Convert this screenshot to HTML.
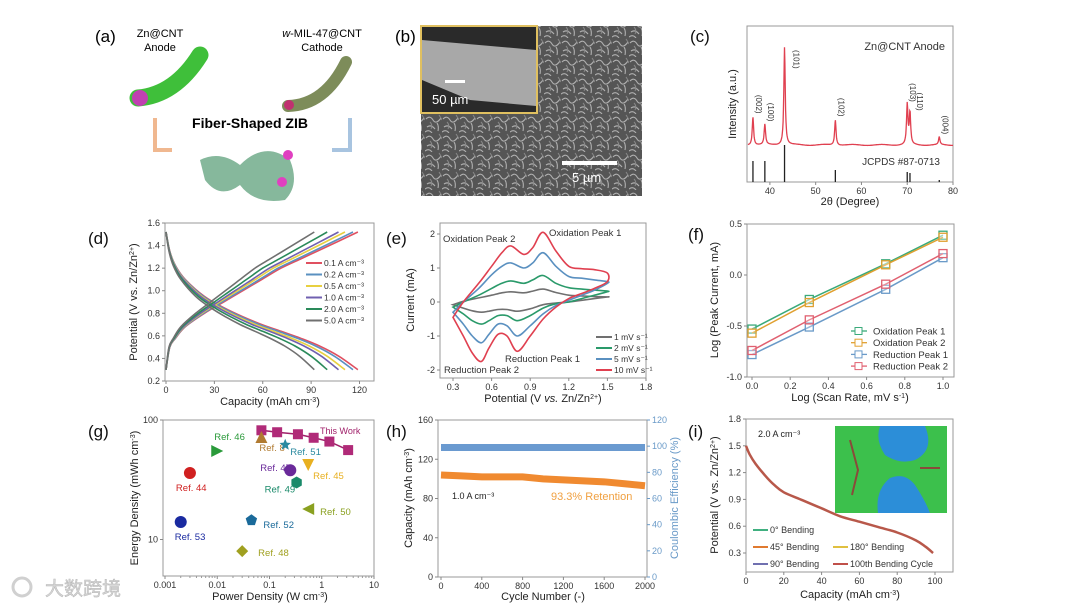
<!DOCTYPE html>
<html><head><meta charset="utf-8"><style>
html,body{margin:0;padding:0;background:#fff;}
svg{display:block;font-family:"Liberation Sans","Noto Sans CJK SC",sans-serif;}
</style></head><body>
<svg id="fig" width="1080" height="608" viewBox="0 0 1080 608" xmlns="http://www.w3.org/2000/svg">
<defs>
<pattern id="sem" width="17" height="19" patternUnits="userSpaceOnUse">
<rect width="17" height="19" fill="#555"/>
<path d="M1 5 Q5 1 8 6 T16 4 M2 13 Q6 10 10 15 M0 18 Q4 15 7 19 M12 9 Q14 12 13 17" stroke="#b0b0b0" stroke-width="1.1" fill="none"/>
<path d="M5 8 Q8 11 6 15 M14 1 Q16 4 17 6" stroke="#888" stroke-width="1" fill="none"/>
</pattern>
</defs>

<!-- Panel a -->
<g>
<text x="95" y="42" font-size="17">(a)</text>
<text x="160" y="37" font-size="11" text-anchor="middle">Zn@CNT</text>
<text x="160" y="51" font-size="11" text-anchor="middle">Anode</text>
<text x="322" y="37" font-size="11" text-anchor="middle"><tspan font-style="italic">w</tspan>-MIL-47@CNT</text>
<text x="322" y="51" font-size="11" text-anchor="middle">Cathode</text>
<path d="M138 98 Q175 95 200 55" stroke="#3fbf3a" stroke-width="17" fill="none" stroke-linecap="round"/>
<circle cx="140" cy="98" r="8" fill="#c040b0"/>
<path d="M288 106 Q325 105 346 62" stroke="#7d8c5a" stroke-width="12" fill="none" stroke-linecap="round"/>
<circle cx="289" cy="105" r="5" fill="#c03070"/>
<text x="250" y="128" font-size="14" font-weight="bold" text-anchor="middle">Fiber-Shaped ZIB</text>
<path d="M155 118 V150 H172" stroke="#f0b890" stroke-width="4" fill="none"/>
<path d="M350 118 V150 H332" stroke="#a8c4e0" stroke-width="4" fill="none"/>
<path d="M200 160 Q220 150 240 165 Q265 140 290 160 Q300 185 285 200 Q255 205 240 185 Q220 200 205 180 Z" fill="#86b89c"/>
<circle cx="288" cy="155" r="5" fill="#e040c0"/>
<circle cx="282" cy="182" r="5" fill="#e040c0"/>
</g>

<!-- Panel b -->
<g>
<text x="395" y="42" font-size="17">(b)</text>
<rect x="421" y="26" width="221" height="170" fill="url(#sem)"/>
<rect x="421" y="26" width="116" height="87" fill="#2a2a2a" stroke="#e0c060" stroke-width="2"/>
<path d="M422 40 L536 50 L536 106 L470 100 L422 80 Z" fill="#a8a8a8"/>
<rect x="445" y="80" width="20" height="3" fill="#fff"/>
<text x="432" y="104" font-size="13" fill="#fff">50 µm</text>
<rect x="562" y="161" width="55" height="4" fill="#fff"/>
<text x="572" y="182" font-size="13" fill="#fff">5 µm</text>
</g>

<!-- watermark -->
<g opacity="0.85">
<circle cx="22" cy="587" r="9" fill="none" stroke="#c8c8c8" stroke-width="3"/>
<text x="45" y="595" font-size="19" fill="#d0d0d0" stroke="#aaa" stroke-width="0.5">大数跨境</text>
</g>
<g id="charts"></g>
</svg>
<script>
// ---------- data ----------
// (c) XRD
const xrdPeaks=[36.3,38.9,43.2,54.3,70.0,70.6,77.0];
const xrdHeights=[29,21,100,26,41,32,8];
const xrdLabels=["(002)","(100)","(101)","(102)","(103)","(110)","(004)"];
const refSticks=[36.3,38.9,43.2,54.3,70.0,70.6,77.0];
const refStickHeights=[21,21,37,12,10,9,2];
// (d) GCD
const gcdRates=["0.1 A cm⁻³","0.2 A cm⁻³","0.5 A cm⁻³","1.0 A cm⁻³","2.0 A cm⁻³","5.0 A cm⁻³"];
const gcdCapacity=[119,116,111,107,100,92];
const gcdFrac=[0,0.02,0.05,0.1,0.2,0.3,0.4,0.5,0.6,0.7,0.8,0.9,1.0];
const dischargeV=[1.52,1.35,1.22,1.1,0.95,0.85,0.77,0.7,0.64,0.58,0.51,0.42,0.3];
const chargeV=[0.3,0.5,0.58,0.68,0.8,0.9,1.0,1.1,1.2,1.28,1.36,1.44,1.52];
// (e) CV
const cvRates=["1 mV s⁻¹","2 mV s⁻¹","5 mV s⁻¹","10 mV s⁻¹"];
const cvUpperE=[0.3,0.38,0.5,0.6,0.68,0.75,0.85,0.92,1.0,1.1,1.2,1.3,1.4,1.5];
const cvUpper1=[-0.08,0.02,0.12,0.2,0.27,0.3,0.27,0.32,0.38,0.28,0.2,0.18,0.16,0.15];
const cvUpper2=[-0.15,0,0.2,0.4,0.55,0.62,0.55,0.65,0.78,0.55,0.42,0.38,0.35,0.32];
const cvUpper5=[-0.3,0,0.4,0.8,1.05,1.15,1.0,1.15,1.45,1.05,0.75,0.7,0.65,0.6];
const cvUpper10=[-0.45,0,0.55,1.05,1.45,1.65,1.4,1.6,2.05,1.5,1.05,0.98,0.95,0.85];
const cvLowerE=[1.5,1.4,1.3,1.2,1.1,1.0,0.9,0.8,0.72,0.65,0.58,0.52,0.45,0.38,0.3];
const cvLower1=[0.15,0.1,0.05,0,-0.03,-0.08,-0.2,-0.27,-0.22,-0.22,-0.27,-0.3,-0.26,-0.18,-0.08];
const cvLower2=[0.3,0.2,0.1,0,-0.05,-0.18,-0.4,-0.55,-0.4,-0.4,-0.55,-0.65,-0.55,-0.35,-0.15];
const cvLower5=[0.55,0.35,0.2,0.05,-0.1,-0.35,-0.7,-1.0,-0.7,-0.65,-0.95,-1.2,-1.0,-0.65,-0.3];
const cvLower10=[0.6,0.4,0.25,0.1,-0.15,-0.5,-1.0,-1.45,-1.0,-0.95,-1.35,-1.75,-1.5,-1.0,-0.45];
// (f)
const logRate=[0,0.3,0.7,1.0];
const ox1=[-0.53,-0.24,0.11,0.39];
const ox2=[-0.57,-0.27,0.1,0.37];
const red1=[-0.78,-0.51,-0.14,0.17];
const red2=[-0.74,-0.44,-0.09,0.21];
const fNames=["Oxidation Peak 1","Oxidation Peak 2","Reduction Peak 1","Reduction Peak 2"];
// (g) Ragone
const thisPower=[0.07,0.14,0.35,0.7,1.4,3.2];
const thisEnergy=[82,79,76,71,66,56];
const refNames=["Ref. 46","Ref. 44","Ref. 8","Ref. 51","Ref. 47","Ref. 45","Ref. 49","Ref. 50","Ref. 52","Ref. 53","Ref. 48"];
const refPower=[0.01,0.003,0.07,0.2,0.25,0.55,0.33,0.55,0.045,0.002,0.03];
const refEnergy=[55,36,72,62,38,42,30,18,14.5,14,8];
// (h) cycling
const cycles=[0,200,400,600,800,1000,1200,1400,1600,1800,2000];
const capCycle=[104,103,102,102,102,100,99,98,97,95,93];
const ceCycle=[99,99,99,99,99,99,99,99,99,99,99];
// (i) bending
const bendCap=[0,2,5,10,15,20,30,40,50,60,70,80,90,95,99];
const bendV=[1.5,1.4,1.3,1.17,1.06,0.98,0.89,0.8,0.71,0.65,0.59,0.53,0.44,0.37,0.3];

// ---------- helpers ----------
const NS="http://www.w3.org/2000/svg";
const root=document.getElementById('charts');
function el(tag,attrs,parent){const e=document.createElementNS(NS,tag);for(const k in attrs)e.setAttribute(k,attrs[k]);(parent||root).appendChild(e);return e;}
function lin(d0,d1,r0,r1){return v=>r0+(v-d0)/(d1-d0)*(r1-r0);}
function logS(d0,d1,r0,r1){return v=>r0+(Math.log10(v)-d0)/(d1-d0)*(r1-r0);}
function smooth(pts){let d="M"+pts[0][0].toFixed(1)+" "+pts[0][1].toFixed(1);
 for(let i=0;i<pts.length-1;i++){const p0=pts[i-1]||pts[i],p1=pts[i],p2=pts[i+1],p3=pts[i+2]||p2;
  const c1=[p1[0]+(p2[0]-p0[0])/6,p1[1]+(p2[1]-p0[1])/6],c2=[p2[0]-(p3[0]-p1[0])/6,p2[1]-(p3[1]-p1[1])/6];
  d+=" C"+c1.map(v=>v.toFixed(1)).join(" ")+" "+c2.map(v=>v.toFixed(1)).join(" ")+" "+p2[0].toFixed(1)+" "+p2[1].toFixed(1);}
 return d;}
function txt(x,y,s,size,parent,extra){const t=el('text',Object.assign({x:x,y:y,'font-size':size,fill:'#333'},extra||{}),parent);t.textContent=s;return t;}

function frame(g,b,xt,xs,yt,ys){
 const r=el('rect',{x:b.l,y:b.t,width:b.r-b.l,height:b.b-b.t,fill:'none',stroke:'#999','stroke-width':1},g);
 
 
 xt.forEach(v=>{const x=xs(v);
  const tk=el('line',{x1:x,x2:x,y1:b.b,y2:b.b+3,stroke:'#888'},g);
  
  
  const lb=txt(x,b.b+12,v.label||v,9,g,{'text-anchor':'middle'});
  
  });
 yt.forEach(v=>{const y=ys(v);
  const tk=el('line',{x1:b.l-3,x2:b.l,y1:y,y2:y,stroke:'#888'},g);
  
  
  const lb=txt(b.l-5,y+3,String(v),9,g,{'text-anchor':'end'});
  
  });
}
function title(x,y,s,size,g,rot,color){const t=el('text',{x:x,y:y,'font-size':size,fill:color||'#222','text-anchor':'middle',transform:rot?`rotate(-90 ${x} ${y})`:''},g);t.innerHTML=s;return t;}

// ---------- (c) ----------
(function(){
 const g=el('g',{});
 
 
 const b={l:747,r:953,t:26,b:182};
 const xs=lin(35,80,b.l,b.r), yI=v=>146-v*0.98;
 frame(g,b,[40,50,60,70,80],xs,[],null);
 const pl=txt(690,42,"(c)",17,g,{fill:'#111'});
 
 
 let pts=[];
 for(let x=35.2;x<=80;x+=0.08){let I=1+0.5*Math.sin(x);xrdPeaks.forEach((p,i)=>{const w=0.18;I+=xrdHeights[i]/(1+((x-p)/w)**2);});pts.push(xs(x).toFixed(1)+","+yI(I).toFixed(1));}
 const line=el('polyline',{points:pts.join(" "),fill:'none',stroke:'#e04050','stroke-width':1.3},g);
 
 
 xrdPeaks.forEach((p,i)=>{
  let x,y,anchor;
  if(i==2){x=xs(p)+9;y=yI(xrdHeights[i])+2;anchor='start';}
  else{x=xs(p)+(i==5?7:3);y=yI(xrdHeights[i])-4;anchor='end';}
  const t=el('text',{x:x,y:y,'font-size':8,fill:'#333','text-anchor':anchor,transform:`rotate(90 ${x} ${y})`},g);
  t.textContent=xrdLabels[i];
  
  });
 refSticks.forEach((p,i)=>{const s=el('line',{x1:xs(p),x2:xs(p),y1:182,y2:182-refStickHeights[i],stroke:'#222','stroke-width':1.3},g);
  
  });
 const a=txt(945,50,"Zn@CNT Anode",11,g,{'text-anchor':'end'});
 
 
 const j=txt(940,165,"JCPDS #87-0713",10,g,{'text-anchor':'end'});
 
 
 const xt=title(850,205,"2θ (Degree)",11,g);
 
 
 const yt=title(736,104,"Intensity (a.u.)",11,g,true);
 
 
})();

// ---------- (d) ----------
(function(){
 const g=el('g',{});
 
 
 const b={l:165,r:374,t:223,b:381};
 const xs=lin(0,129,166,374), ys=lin(0.2,1.6,381,223);
 frame(g,b,[0,30,60,90,120],xs,[0.2,0.4,0.6,0.8,1.0,1.2,1.4,1.6],ys);
 g.querySelectorAll('text[text-anchor="end"]').forEach(t=>{t.textContent=parseFloat(t.textContent).toFixed(1);});
 const pl=txt(88,244,"(d)",17,g,{fill:'#111'});
 
 
 const cols=['#e05060','#5a90c0','#e8d040','#7060b0','#2a8a5a','#707070'];
 gcdCapacity.forEach((q,i)=>{
  const dp=gcdFrac.map((f,k)=>[xs(f*q),ys(dischargeV[k])]);
  const cp=gcdFrac.map((f,k)=>[xs(f*q),ys(chargeV[k])]);
  const d1=el('path',{d:smooth(dp),fill:'none',stroke:cols[i],'stroke-width':1.6},g);
  
  
  const d2=el('path',{d:smooth(cp),fill:'none',stroke:cols[i],'stroke-width':1.6},g);
  
  
  const ly=263+i*11.5;
  const ll=el('line',{x1:306,x2:322,y1:ly,y2:ly,stroke:cols[i],'stroke-width':2},g);
  
  
  const lt=txt(324,ly+3,gcdRates[i],8.5,g);
  
  });
 const xt=title(270,405,"Capacity (mAh cm<tspan baseline-shift='super' font-size='7'>-3</tspan>)",11,g);
 
 
 const yt=title(137,302,"Potential (V vs. Zn/Zn<tspan baseline-shift='super' font-size='7'>2+</tspan>)",11,g,true);
 
 
})();

// ---------- (e) ----------
(function(){
 const g=el('g',{});
 
 
 const b={l:440,r:646,t:223,b:378};
 const xs=lin(0.3,1.8,453,646), ys=lin(-2,2,370,234);
 frame(g,b,[0.3,0.6,0.9,1.2,1.5,1.8].map(v=>({label:v.toFixed(1),valueOf(){return v;}})),v=>xs(+v),[-2,-1,0,1,2],ys);
 const pl=txt(386,244,"(e)",17,g,{fill:'#111'});
 
 
 const cols=['#707070','#2a9a6a','#5a90c0','#e04050'];
 const ups=[cvUpper1,cvUpper2,cvUpper5,cvUpper10], lows=[cvLower1,cvLower2,cvLower5,cvLower10];
 ups.forEach((u,i)=>{
  const p=cvUpperE.map((e,k)=>[xs(e),ys(u[k])]).concat(cvLowerE.map((e,k)=>[xs(e),ys(lows[i][k])]));
  const c=el('path',{d:smooth(p)+" Z",fill:'none',stroke:cols[i],'stroke-width':1.6},g);
  
  
  const ly=337+i*11;
  const ll=el('line',{x1:596,x2:612,y1:ly,y2:ly,stroke:cols[i],'stroke-width':2},g);
  
  
  const lt=txt(614,ly+3,cvRates[i],8.5,g);
  
  });
 [["Oxidation Peak 2",443,242],["Oxidation Peak 1",549,236],["Reduction Peak 1",505,362],["Reduction Peak 2",444,373]].forEach(a=>{
  const t=txt(a[1],a[2],a[0],9.5,g);
  
  });
 const xt=title(543,402,"Potential (V <tspan font-style='italic'>vs.</tspan> Zn/Zn<tspan baseline-shift='super' font-size='7'>2+</tspan>)",11,g);
 
 
 const yt=title(414,300,"Current (mA)",11,g,true);
 
 
})();

// ---------- (f) ----------
(function(){
 const g=el('g',{});
 
 
 const b={l:747,r:954,t:224,b:377};
 const xs=lin(0,1,752,943), ys=lin(-1,0.5,377,224);
 frame(g,b,[0,0.2,0.4,0.6,0.8,1].map(v=>({label:v.toFixed(1),valueOf(){return v;}})),v=>xs(+v),[],ys);
 [-1,-0.5,0,0.5].forEach(v=>{const y=ys(v);const tk=el('line',{x1:744,x2:747,y1:y,y2:y,stroke:'#888'},g);
  
  
  const t=txt(742,y+3,v.toFixed(1),9,g,{'text-anchor':'end'});
  
  });
 const pl=txt(688,240,"(f)",17,g,{fill:'#111'});
 
 
 const cols=['#3aaa7a','#e0a030','#6a9ac8','#e06070'];
 [ox1,ox2,red1,red2].forEach((s,i)=>{
  const pl2=el('polyline',{points:logRate.map((x,k)=>xs(x)+","+ys(s[k])).join(" "),fill:'none',stroke:cols[i],'stroke-width':1.5},g);
  
  
  logRate.forEach((x,k)=>{const m=el('rect',{x:xs(x)-4,y:ys(s[k])-4,width:8,height:8,fill:'#fff','fill-opacity':0.3,stroke:cols[i],'stroke-width':1.3},g);
   
   });
  const ly=331+i*11.7;
  const ll=el('line',{x1:851,x2:867,y1:ly,y2:ly,stroke:cols[i],'stroke-width':1.3},g);
  
  
  const lm=el('rect',{x:855,y:ly-3.5,width:7,height:7,fill:'#fff',stroke:cols[i]},g);
  
  
  const lt=txt(873,ly+3.5,fNames[i],9.5,g);
  
  });
 const xt=title(850,401,"Log (Scan Rate, mV s<tspan baseline-shift='super' font-size='7'>-1</tspan>)",11,g);
 
 
 const yt=title(718,300,"Log (Peak Current, mA)",11,g,true);
 
 
})();

// ---------- (g) ----------
(function(){
 const g=el('g',{});
 
 
 const b={l:163,r:374,t:420,b:576};
 const xs=logS(-3,1,165,374), ys=logS(1,2,539.5,420);
 frame(g,b,[0.001,0.01,0.1,1,10].map(v=>({label:String(v),valueOf(){return v;}})),v=>xs(+v),[10,100],ys);
 for(let d=-3;d<1;d++)for(let m=2;m<10;m++){const x=xs(m*Math.pow(10,d));const t=el('line',{x1:x,x2:x,y1:576,y2:578,stroke:'#999'},g);
  
  }
 const pl=txt(88,437,"(g)",17,g,{fill:'#111'});
 
 
 const tl=el('polyline',{points:thisPower.map((p,k)=>xs(p)+","+ys(thisEnergy[k])).join(" "),fill:'none',stroke:'#a0206a','stroke-width':1.5},g);
 
 
 thisPower.forEach((p,k)=>{const m=el('rect',{x:xs(p)-5,y:ys(thisEnergy[k])-5,width:10,height:10,fill:'#b02a78'},g);
  
  });
 const tw=txt(320,434,"This Work",9,g,{fill:'#a0206a'});
 
 
 const rcol=['#2a9a3a','#d02020','#b07a30','#2a8aa0','#6a2a9a','#e8b020','#1a8a6a','#8aa020','#1a6a9a','#1a2aa0','#a0a020'];
 const shapes=['tr','c','tu','star','c','td','hex','tl','pent','c','dia'];
 const lpos=[[-3,-11],[-14,18],[-2,14],[5,10],[-30,1],[5,14],[-32,10],[12,6],[12,8],[-6,18],[16,5]];
 refPower.forEach((p,i)=>{const x=xs(p),y=ys(refEnergy[i]),s=6;let m;
  const sh=shapes[i];
  if(sh=='c')m=el('circle',{cx:x,cy:y,r:s},g);
  else if(sh=='tr')m=el('polygon',{points:`${x-s},${y-s} ${x+s},${y} ${x-s},${y+s}`},g);
  else if(sh=='tl')m=el('polygon',{points:`${x+s},${y-s} ${x-s},${y} ${x+s},${y+s}`},g);
  else if(sh=='tu')m=el('polygon',{points:`${x-s},${y+s} ${x+s},${y+s} ${x},${y-s}`},g);
  else if(sh=='td')m=el('polygon',{points:`${x-s},${y-s} ${x+s},${y-s} ${x},${y+s}`},g);
  else if(sh=='dia')m=el('polygon',{points:`${x},${y-s} ${x+s},${y} ${x},${y+s} ${x-s},${y}`},g);
  else{const n=sh=='hex'?6:sh=='pent'?5:10;let pts=[];for(let k=0;k<n;k++){const a=-Math.PI/2+k*2*Math.PI/n;const rr=sh=='star'&&k%2?s*0.45:s;pts.push((x+rr*Math.cos(a)).toFixed(1)+","+(y+rr*Math.sin(a)).toFixed(1));}m=el('polygon',{points:pts.join(" ")},g);}
  m.setAttribute('fill',rcol[i]);
  
  
  const t=txt(x+lpos[i][0],y+lpos[i][1],refNames[i],9.5,g,{fill:rcol[i]});
  
  });
 const xt=title(270,600,"Power Density (W cm<tspan baseline-shift='super' font-size='7'>-3</tspan>)",11,g);
 
 
 const yt=title(138,498,"Energy Density (mWh cm<tspan baseline-shift='super' font-size='7'>-3</tspan>)",11,g,true);
 
 
})();

// ---------- (h) ----------
(function(){
 const g=el('g',{});
 
 
 const b={l:438,r:647,t:420,b:577};
 const xs=lin(0,2000,441,645), ys=lin(0,160,577,420), yr=lin(0,120,577,420);
 frame(g,b,[0,400,800,1200,1600,2000],xs,[0,40,80,120,160],ys);
 [0,20,40,60,80,100,120].forEach(v=>{const y=yr(v);const tk=el('line',{x1:647,x2:650,y1:y,y2:y,stroke:'#6a9ac8'},g);
  
  
  const t=txt(652,y+3,String(v),9,g,{fill:'#6a9ac8'});
  
  });
 const pl=txt(386,437,"(h)",17,g,{fill:'#111'});
 
 
 const ce=el('polyline',{points:cycles.map((c,k)=>xs(c)+","+yr(ceCycle[k])).join(" "),fill:'none',stroke:'#6a9ad0','stroke-width':7},g);
 
 
 const cp=el('polyline',{points:cycles.map((c,k)=>xs(c)+","+ys(capCycle[k])).join(" "),fill:'none',stroke:'#f08a30','stroke-width':7},g);
 
 
 const a=txt(452,499,"1.0 A cm⁻³",9,g,{fill:'#222'});
 
 
 const r=txt(551,500,"93.3% Retention",11,g,{fill:'#f0a040'});
 
 
 const xt=title(543,600,"Cycle Number (-)",11,g);
 
 
 const yt=title(412,498,"Capacity (mAh cm<tspan baseline-shift='super' font-size='7'>-3</tspan>)",11,g,true);
 
 
 const yt2=title(678,498,"Coulombic Efficiency (%)",11,g,true,'#6a9ac8');
 
 
})();

// ---------- (i) ----------
(function(){
 const g=el('g',{});
 
 
 const b={l:746,r:953,t:419,b:572};
 const xs=lin(0,100,746,935), ys=lin(0.3,1.8,553,419);
 frame(g,b,[0,20,40,60,80,100],xs,[0.3,0.6,0.9,1.2,1.5,1.8],ys);
 g.querySelectorAll('text[text-anchor="end"]').forEach(t=>{t.textContent=parseFloat(t.textContent).toFixed(1);});
 const pl=txt(688,437,"(i)",17,g,{fill:'#111'});
 
 
 const ph=el('rect',{x:835,y:426,width:112,height:87,fill:'#3cc04c'},g);
 
 
 const hand=el('path',{d:"M880 426 H925 Q935 450 915 460 Q900 465 885 455 Q875 440 880 426 Z M878 513 Q875 490 890 478 Q905 472 915 485 Q925 500 930 513 Z",fill:'#2c8ed8'},g);
 
 
 const dev=el('path',{d:"M850 440 L858 470 L852 495 M920 468 L940 468",stroke:'#8a4a3a','stroke-width':2,fill:'none'},g);
 
 
 const cols=['#40b080','#e07a30','#7070b0','#e0c040','#c0504a'];
 const c=el('path',{d:smooth(bendCap.map((q,k)=>[xs(q),ys(bendV[k])])),fill:'none',stroke:'#b8584a','stroke-width':2.5},g);
 
 
 const leg=[["0° Bending",753,530],["45° Bending",753,547],["90° Bending",753,564],["180° Bending",833,547],["100th Bending Cycle",833,564]];
 leg.forEach((l,i)=>{const ll=el('line',{x1:l[1],x2:l[1]+15,y1:l[2],y2:l[2],stroke:cols[i],'stroke-width':2},g);
  
  
  const t=txt(l[1]+17,l[2]+3,l[0],9,g);
  
  });
 const a=txt(758,437,"2.0 A cm⁻³",9,g,{fill:'#222'});
 
 
 const xt=title(850,598,"Capacity (mAh cm<tspan baseline-shift='super' font-size='7'>-3</tspan>)",11,g);
 
 
 const yt=title(718,495,"Potential (V vs. Zn/Zn<tspan baseline-shift='super' font-size='7'>2+</tspan>)",11,g,true);
 
 
})();
</script>
</body></html>
